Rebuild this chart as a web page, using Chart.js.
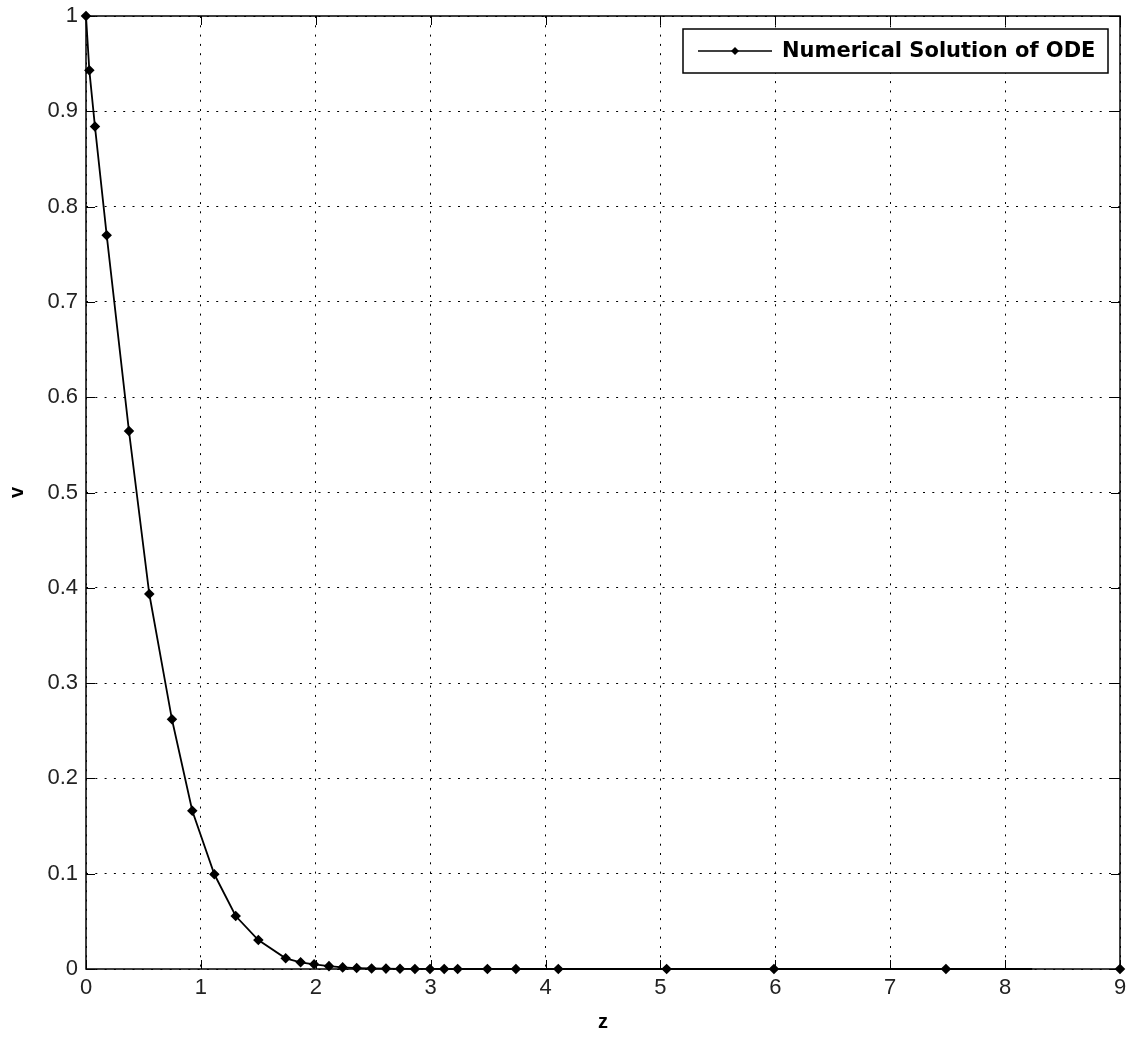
<!DOCTYPE html>
<html>
<head>
<meta charset="utf-8">
<script src="https://cdn.jsdelivr.net/npm/chart.js@4.4.0/dist/chart.umd.min.js"></script>
<style>
  html, body { margin: 0; padding: 0; background: #fff; }
  #wrap { width: 1133px; height: 1037px; }
</style>
</head>
<body>
<div id="wrap"><canvas id="myChart"></canvas></div>
<script>
// values
const zValues = [0, 0.029, 0.078, 0.18, 0.374, 0.551, 0.748, 0.925, 1.117, 1.303, 1.5, 1.738, 1.868, 1.985,
  2.115, 2.234, 2.356, 2.486, 2.611, 2.733, 2.863, 2.994, 3.118, 3.235, 3.494, 3.742, 4.111, 5.054, 5.988, 7.485, 8.236, 9];
const vValues = [1, 0.943, 0.884, 0.77, 0.5645, 0.3935, 0.262, 0.166, 0.0994, 0.0556, 0.0304, 0.0112, 0.007, 0.0049,
  0.003, 0.0017, 0.001, 0.0006, 0.0004, 0.0002, 0.0001, 0.0001, 0, 0, 0, 0, 0, 0, 0, 0, 0, 0];
const hiddenMarkers = [8.236];   // line ends here without a marker
const xTicks = [0, 1, 2, 3, 4, 5, 6, 7, 8, 9];
const yTicks = [0, 0.1, 0.2, 0.3, 0.4, 0.5, 0.6, 0.7, 0.8, 0.9, 1];
const seriesLabel = 'Numerical Solution of ODE';
const xTitle = 'z';
const yTitle = 'v';

const tickFont = { family: "'Liberation Sans', Arial, sans-serif", size: 22 };
const titleFont = { family: "'Liberation Sans', Arial, sans-serif", size: 20, weight: 'bold' };

const points = zValues.map((z, i) => ({ x: z, y: vValues[i] }));
const lastIdx = points.length - 1;

// box, inward ticks and the legend, matlab style
const matlabFrame = {
  id: 'matlabFrame',
  beforeDatasetsDraw(chart) {
    const { ctx, chartArea: a, scales: { x, y } } = chart;
    ctx.save();
    ctx.strokeStyle = '#000';
    ctx.lineWidth = 1;
    ctx.beginPath();
    xTicks.forEach((t) => {
      const px = Math.round(x.getPixelForValue(t)) + 0.5;
      ctx.moveTo(px, a.bottom); ctx.lineTo(px, a.bottom - 9);
      ctx.moveTo(px, a.top); ctx.lineTo(px, a.top + 9);
    });
    yTicks.forEach((t) => {
      const py = Math.round(y.getPixelForValue(t)) + 0.5;
      ctx.moveTo(a.left, py); ctx.lineTo(a.left + 9, py);
      ctx.moveTo(a.right, py); ctx.lineTo(a.right - 9, py);
    });
    ctx.stroke();
    ctx.lineWidth = 1.5;
    ctx.strokeRect(a.left, a.top, a.width, a.height);
    ctx.restore();
  },
  afterDraw(chart) {
    const { ctx, chartArea: a } = chart;
    const ds = chart.data.datasets[0];
    const bx = a.right - 437, by = a.top + 13, bw = 425, bh = 44;
    ctx.save();
    ctx.fillStyle = '#fff';
    ctx.fillRect(bx, by, bw, bh);
    ctx.strokeStyle = '#000';
    ctx.lineWidth = 1.5;
    ctx.strokeRect(bx, by, bw, bh);
    const cy = by + bh / 2;
    ctx.lineWidth = 1.5;
    ctx.beginPath();
    ctx.moveTo(bx + 15, cy); ctx.lineTo(bx + 89, cy);
    ctx.stroke();
    ctx.beginPath();
    ctx.moveTo(bx + 52, cy - 4); ctx.lineTo(bx + 56, cy); ctx.lineTo(bx + 52, cy + 4); ctx.lineTo(bx + 48, cy);
    ctx.closePath();
    ctx.fillStyle = '#000';
    ctx.fill();
    ctx.font = "bold 21px 'DejaVu Sans', 'Liberation Sans', sans-serif";
    ctx.textBaseline = 'middle';
    ctx.fillText(ds.label, bx + 99, cy + 1);
    ctx.restore();
  }
};

const ctx = document.getElementById('myChart').getContext('2d');
const myChart = new Chart(ctx, {
  type: 'scatter',
  data: {
    datasets: [{
      label: seriesLabel,
      data: points,
      showLine: true,
      borderColor: '#000',
      backgroundColor: '#000',
      borderWidth: 1.8,
      pointStyle: 'rectRot',
      pointRadius: points.map(p => hiddenMarkers.includes(p.x) ? 0 : 4),
      pointHoverRadius: 4,
      clip: false,
      segment: {
        borderColor: (c) => c.p1DataIndex === lastIdx ? 'rgba(0,0,0,0)' : '#000'
      }
    }]
  },
  options: {
    responsive: true,
    maintainAspectRatio: false,
    animation: false,
    layout: { padding: { top: 16, right: 13, left: 0, bottom: 0 } },
    plugins: {
      legend: { display: false },
      tooltip: { enabled: false }
    },
    scales: {
      x: {
        type: 'linear',
        min: 0,
        max: 9,
        afterFit: (s) => { s.height = 68; s.paddingLeft = 0; s.paddingRight = 0; },
        afterBuildTicks: (s) => { s.ticks = xTicks.map(v => ({ value: v })); },
        ticks: { font: tickFont, color: '#222', padding: 6, maxRotation: 0 },
        grid: { color: '#000', lineWidth: 1, drawTicks: false },
        border: { display: false, dash: [2, 7.3] },
        title: { display: true, text: xTitle, font: titleFont, color: '#000', padding: { top: 0, bottom: 3 } }
      },
      y: {
        type: 'linear',
        min: 0,
        max: 1,
        afterFit: (s) => { s.width = 86; s.paddingTop = 0; s.paddingBottom = 0; },
        afterBuildTicks: (s) => { s.ticks = yTicks.map(v => ({ value: v })); },
        ticks: {
          font: tickFont, color: '#222', padding: 8,
          callback: (v) => String(+v.toFixed(1))
        },
        grid: { color: '#000', lineWidth: 1, drawTicks: false },
        border: { display: false, dash: [2, 7.3] },
        title: { display: true, text: yTitle, font: titleFont, color: '#000', padding: { top: 5, bottom: 0 } }
      }
    }
  },
  plugins: [matlabFrame]
});
</script>
</body>
</html>
